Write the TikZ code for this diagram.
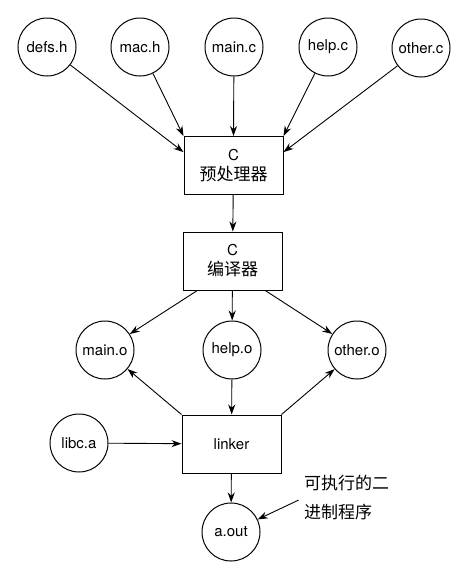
\documentclass[tikz,border=0pt]{standalone}
\usepackage{fontspec}
\setmainfont{TeX Gyre Heros}
\newfontfamily\cjk{Noto Sans CJK SC}
\usetikzlibrary{arrows.meta}
\begin{document}
\begin{tikzpicture}[x=1pt,y=-1pt,
  circ/.style={circle,draw,line width=1pt,minimum size=58pt,inner sep=0pt,font=\fontsize{15}{17}\selectfont},
  boxnode/.style={rectangle,draw,line width=1pt,minimum width=99pt,minimum height=58pt,inner sep=0pt,align=center,font=\fontsize{15}{20}\selectfont},
  arr/.style={-{Stealth[length=10pt,width=7pt]},line width=0.9pt}]
\useasboundingbox (0,0) rectangle (466,573);
% top sources
\node[circ] (defs) at (47,47) {defs.h};
\node[circ] (mach) at (140,47) {mac.h};
\node[circ] (mainc) at (234,47) {main.c};
\node[circ] (helpc) at (328,47) {help.c};
\node[circ] (otherc) at (421,48) {other.c};
% preprocessor
\node[boxnode] (pre) at (233.5,165.5) {C\\{\cjk\fontsize{17}{20}\selectfont 预处理器}};
% compiler
\node[boxnode] (comp) at (232.5,261) {C\\{\cjk\fontsize{17}{20}\selectfont 编译器}};
% objects
\node[circ] (maino) at (105,350) {main.o};
\node[circ] (helpo) at (232,350) {help.o};
\node[circ] (othero) at (357,350) {other.o};
% linker
\node[boxnode] (linker) at (231.5,444) {linker};
\node[circ] (libc) at (79,443) {libc.a};
\node[circ] (aout) at (231,532) {a.out};
% note
\node[anchor=west,align=left,inner sep=0pt,font=\cjk\fontsize{17}{29}\selectfont] (note) at (304,497.5) {可执行的二\\ 进制程序};
% connectors
\draw[arr] (defs) -- (pre.165);
\draw[arr] (mach) -- (pre.north west);
\draw[arr] (mainc) -- (pre.north);
\draw[arr] (helpc) -- (pre.north east);
\draw[arr] (otherc) -- (pre.15);
\draw[arr] (pre) -- (comp);
\draw[arr] (comp.220) -- (maino);
\draw[arr] (comp) -- (helpo);
\draw[arr] (comp.318) -- (othero);
\draw[arr] (linker.north west) -- (maino);
\draw[arr] (helpo) -- (linker);
\draw[arr] (linker.north east) -- (othero);
\draw[arr] (libc) -- (linker);
\draw[arr] (linker) -- (aout);
\draw[arr,shorten <=6pt] (note.west) -- (aout);
\end{tikzpicture}
\end{document}
